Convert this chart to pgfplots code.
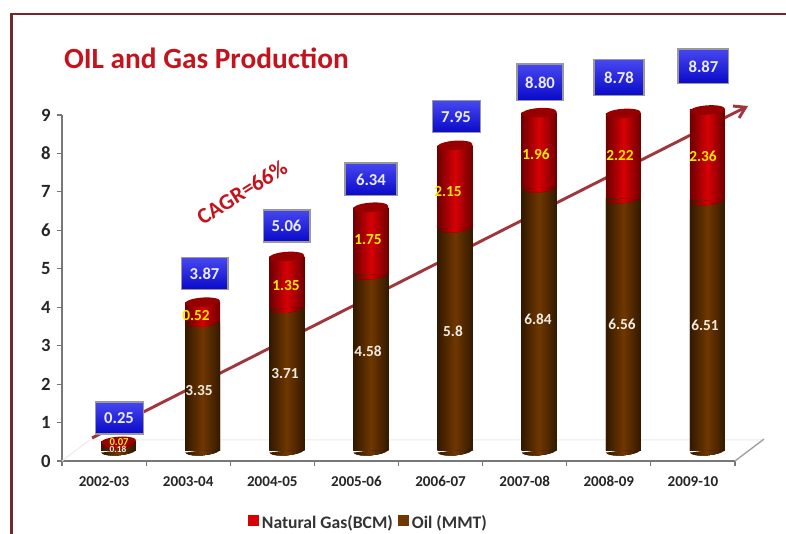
\documentclass[border=0pt]{standalone}
\usepackage{pgfplots}
\usepackage{pgfplotstable}
\usepackage{fontspec}
\setmainfont{Carlito}
\pgfplotsset{compat=1.18}
\usetikzlibrary{arrows.meta}
\definecolor{frame}{RGB}{115,40,45}
\definecolor{titlered}{RGB}{195,20,30}
\definecolor{arrowred}{RGB}{160,55,60}
\definecolor{axisgray}{RGB}{120,120,120}
\definecolor{floorgray}{RGB}{235,235,235}
\definecolor{redD}{RGB}{110,0,0}
\definecolor{redM}{RGB}{215,0,5}
\definecolor{redCap}{RGB}{150,0,0}
\definecolor{brD}{RGB}{50,25,0}
\definecolor{brM}{RGB}{112,55,0}
\definecolor{boxblue}{RGB}{10,10,235}
\definecolor{boxtext}{RGB}{235,235,255}
\definecolor{ylab}{RGB}{255,235,0}
\definecolor{wlab}{RGB}{240,235,225}
% caps of the cylinders (1px = 0.75pt)
\pgfdeclareplotmark{capTop}{\pgftransformrotate{4}\pgfpathellipse{\pgfpointorigin}{\pgfpoint{13.1pt}{0pt}}{\pgfpoint{0pt}{3.5pt}}\pgfusepath{fill}}
\makeatletter
\newcommand\hcr[2]{\pgfsetfillcolor{#1}\pgfpathrectanglecorners{\pgfpoint{-#2}{-5pt}}{\pgfpoint{#2}{0pt}}\pgfusepath{fill}}
\newcommand\halfcyl[2]{\pgfscope\pgftransformrotate{5}%
  \pgfpathmoveto{\pgfpoint{-13.1pt}{0pt}}\pgfpatharc{180}{360}{13.1pt and 3.2pt}\pgfpathclose\pgfusepath{clip}%
  \hcr{#1}{13.5pt}\hcr{#2!17!#1}{11.0pt}\hcr{#2!33!#1}{9.0pt}\hcr{#2!50!#1}{7.0pt}\hcr{#2!67!#1}{5.0pt}\hcr{#2!83!#1}{3.0pt}\hcr{#2}{1.2pt}%
  \endpgfscope}
\makeatother
\pgfdeclareplotmark{halfRed}{\halfcyl{redD}{redM}}
\pgfdeclareplotmark{halfBrown}{\halfcyl{brD}{brM}}
\pgfplotsset{
  redbar/.style={forget plot,ybar,bar width=26.2pt,bar shift=0pt,draw=none,yshift=7.5pt,left color=redD,right color=redD,middle color=redM},
  brbar/.style={forget plot,ybar,bar width=26.2pt,bar shift=0pt,draw=none,yshift=7.5pt,left color=brD,right color=brD,middle color=brM},
}
\pgfplotstableread{
x oil gas total
0.672 0.18 0.07 0.25
1.672 3.35 0.52 3.87
2.672 3.71 1.35 5.06
3.672 4.58 1.75 6.34
4.672 5.80 2.15 7.95
5.672 6.84 1.96 8.80
6.672 6.56 2.22 8.78
7.672 6.51 2.36 8.87
}\prod
\pgfplotstableread{
x y w h lab
0.678 1.119 36.0 24.0 0.25
1.694 4.865 35.2 24.0 3.87
2.669 6.113 35.2 24.0 5.06
3.673 7.323 39.0 24.7 6.34
4.684 8.949 36.0 24.0 7.95
5.682 9.846 34.5 27.7 8.80
6.621 9.964 37.5 27.0 8.78
7.625 10.262 38.2 26.2 8.87
}\boxes
\pgfplotstableread{
x y lab
1.629 1.821 3.35
2.651 2.263 3.71
3.637 2.862 4.58
4.648 3.382 5.8
5.658 3.694 6.84
6.657 3.564 6.56
7.643 3.538 6.51
}\oillabs
\pgfplotstableread{
x y lab
1.593 3.772 0.52
2.663 4.553 1.35
3.637 5.749 1.75
4.588 6.998 2.15
5.634 7.986 1.96
6.633 7.934 2.22
7.620 7.934 2.36
}\gaslabs
\begin{document}
\begin{tikzpicture}
\useasboundingbox (0,0) rectangle (589.5pt,400.5pt);
\draw[frame,line width=1.8pt] (8.5pt,-2pt) -- (8.5pt,390pt) -- (592pt,390pt);
\node[anchor=west,text=titlered,font=\bfseries\fontsize{22}{25}\selectfont] at (44.5pt,357pt) {OIL and Gas Production};
\begin{axis}[
  at={(46.5pt,54.75pt)}, anchor=south west,
  scale only axis, width=504.75pt, height=259.5pt,
  xmin=0, xmax=8, ymin=0, ymax=9,
  clip=false,
  axis lines*=left,
  axis line style={axisgray,line width=1.3pt},
  xtick={0.5,1.5,...,7.5},
  xticklabels={2002-03,2003-04,2004-05,2005-06,2006-07,2007-08,2008-09,2009-10},
  minor xtick={0,1,...,8},
  major x tick style={draw=none},
  minor x tick style={axisgray,line width=0.8pt},
  minor tick length=4pt,
  ytick={0,1,...,9},
  y tick style={axisgray,line width=0.8pt},
  major tick length=4pt,
  tick align=outside,
  /pgf/number format/assume math mode=true,
  ticklabel style={text=black!85},
  xticklabel style={font=\bfseries\fontsize{11.3}{13}\selectfont,yshift=-4pt},
  yticklabel style={font=\bfseries\fontsize{14}{16}\selectfont,xshift=-1pt},
  legend style={at={(axis description cs:0.456,-0.179)},anchor=center,draw=none,fill=none,
    legend columns=2,font=\bfseries\fontsize{13.2}{15}\selectfont,text=black!80,
    /tikz/every even column/.append style={column sep=2pt},inner sep=0pt},
  legend image code/.code={\fill[#1] (0.08cm,-0.07cm) rectangle (0.37cm,0.22cm);},
]
% floor
\addplot[forget plot,floorgray,line width=0.8pt] coordinates {(0,0) (0.33,0.55) (8.33,0.55) (8,0)};
\addplot[forget plot,axisgray!70,line width=1pt] coordinates {(8,0) (8.345,0.57)};
% trend arrow
\addplot[forget plot,arrowred,line width=2.2pt,-{Straight Barb[length=8pt,width=10pt]}] coordinates {(0.357,0.598) (8.155,9.235)};
% cylinders: totals (gas on top of oil), then oil
\addplot[redbar] coordinates {(0.672,0.25)};
\addplot[redbar] coordinates {(1.672,3.87)};
\addplot[redbar] coordinates {(2.672,5.06)};
\addplot[redbar] coordinates {(3.672,6.34)};
\addplot[redbar] coordinates {(4.672,7.95)};
\addplot[redbar] coordinates {(5.672,8.80)};
\addplot[redbar] coordinates {(6.672,8.78)};
\addplot[redbar] coordinates {(7.672,8.87)};
\addplot[brbar] coordinates {(0.672,0.18)};
\addplot[brbar] coordinates {(1.672,3.35)};
\addplot[brbar] coordinates {(2.672,3.71)};
\addplot[brbar] coordinates {(3.672,4.58)};
\addplot[brbar] coordinates {(4.672,5.80)};
\addplot[brbar] coordinates {(5.672,6.84)};
\addplot[brbar] coordinates {(6.672,6.56)};
\addplot[brbar] coordinates {(7.672,6.51)};
\addplot[forget plot,only marks,mark=halfBrown,yshift=7.5pt] table[x=x,y expr=0] {\prod};
\addplot[forget plot,only marks,mark=halfRed,yshift=7.5pt] table[x=x,y=oil] {\prod};
\addplot[forget plot,only marks,mark=capTop,color=redCap,mark options={fill=redCap,draw=none},yshift=7.5pt] table[x=x,y=total] {\prod};
% value boxes
\addplot[forget plot,only marks,mark=none,
  visualization depends on={\thisrow{w}\as\bw},
  visualization depends on={\thisrow{h}\as\bh},
  point meta=explicit symbolic,
  nodes near coords,nodes near coords align={center},
  every node near coord/.style={anchor=center,inner sep=0pt,top color=boxblue!75!white,middle color=boxblue,bottom color=boxblue!85!black,draw=black!40,line width=0.8pt,
    text=boxtext,font=\bfseries\fontsize{12.5}{14}\selectfont,
    minimum width=\bw pt,minimum height=\bh pt},
] table[x=x,y=y,meta=lab] {\boxes};
% white value labels
\addplot[forget plot,only marks,mark=none,point meta=explicit symbolic,nodes near coords,
  every node near coord/.style={anchor=center,inner sep=0pt,text=wlab,font=\bfseries\fontsize{11.5}{13}\selectfont},
] table[x=x,y=y,meta=lab] {\oillabs};
\addplot[forget plot,only marks,mark=none,point meta=explicit symbolic,nodes near coords,
  every node near coord/.style={anchor=center,inner sep=0pt,text=wlab,font=\bfseries\fontsize{7}{8}\selectfont},
] coordinates {(0.666,0.312) [0.18]};
% yellow value labels
\addplot[forget plot,only marks,mark=none,point meta=explicit symbolic,nodes near coords,
  every node near coord/.style={anchor=center,inner sep=0pt,text=ylab,font=\bfseries\fontsize{11.5}{13}\selectfont},
] table[x=x,y=y,meta=lab] {\gaslabs};
\addplot[forget plot,only marks,mark=none,point meta=explicit symbolic,nodes near coords,
  every node near coord/.style={anchor=center,inner sep=0pt,text=ylab,font=\bfseries\fontsize{8}{9}\selectfont},
] coordinates {(0.678,0.494) [0.07]};
\node[rotate=32,text=titlered,font=\bfseries\fontsize{16.7}{19}\selectfont] at (axis cs:2.14,6.998) {CAGR=66\%};
\addlegendimage{fill=redM,draw=none}
\addlegendentry{Natural Gas(BCM)}
\addlegendimage{fill=brM,draw=none}
\addlegendentry{Oil (MMT)}
\end{axis}
\end{tikzpicture}
\end{document}
